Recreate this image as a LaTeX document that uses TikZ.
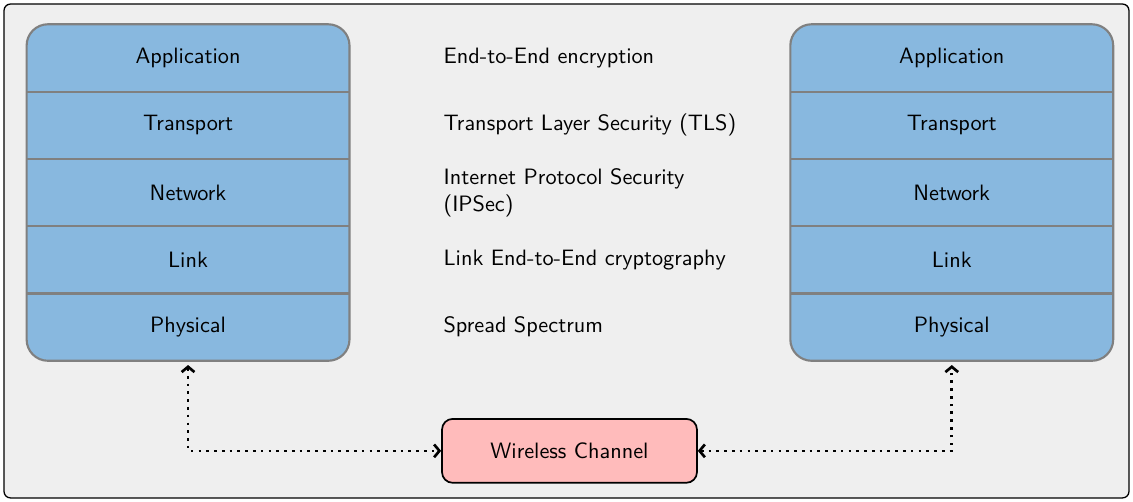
\documentclass[tikz,border=0pt]{standalone}
\usepackage{tikz}
\usetikzlibrary{positioning,fit,backgrounds,arrows.meta}

\definecolor{layerblue}{RGB}{136,184,223}
\definecolor{stackgray}{RGB}{128,128,128}
\definecolor{chanpink}{RGB}{255,187,187}
\definecolor{framegray}{RGB}{239,239,239}

\begin{document}
\begin{tikzpicture}
    [
      font=\sffamily\fontsize{10.45}{12.5}\selectfont,
      layer/.style={minimum width=151.2pt, minimum height=31.2pt, inner sep=0pt},
      stack/.style={rounded corners=10pt, draw=stackgray, line width=1pt, fill=layerblue, inner sep=0pt},
      sep/.style={draw=stackgray, line width=1pt},
      info/.style={text width=142pt, align=left, inner sep=0pt},
      channel/.style={rounded corners=5pt, draw, line width=0.8pt, fill=chanpink, minimum width=119.7pt, minimum height=30pt},
      link/.style={<->, >={Straight Barb[length=2.5pt,width=6pt]}, line width=1.25pt, dash pattern=on 1.25pt off 2.4pt, shorten <=2pt}
    ]
    \useasboundingbox (0pt,0pt) rectangle (532pt,235.7pt);
    % left stack
    \node (appA) [layer] at (88.3pt,208.5pt) {Application};
    \node (transA) [below=0pt of appA, layer] {Transport};
    \node (netA) [below=0pt of transA, layer] {Network};
    \node (linkA) [below=0pt of netA, layer] {Link};
    \node (phyA) [below=0pt of linkA, layer] {Physical};
    % right stack
    \node (appB) [right=207pt of appA, layer] {Application};
    \node (transB) [below=0pt of appB, layer] {Transport};
    \node (netB) [below=0pt of transB, layer] {Network};
    \node (linkB) [below=0pt of netB, layer] {Link};
    \node (phyB) [below=0pt of linkB, layer] {Physical};
    % security per layer
    \node (e2e) [right=44pt of appA, info] {End-to-End encryption};
    \node (tls) [right=44pt of transA, info] {Transport Layer Security (TLS)};
    \node (ipsec) [right=44pt of netA, info] {Internet Protocol Security (IPSec)};
    \node (lcrypt) [right=44pt of linkA, info] {Link End-to-End cryptography};
    \node (spread) [right=44pt of phyA, info] {Spread Spectrum};
    \node (wire) [channel] at (267.4pt,24pt) {Wireless Channel};
    \begin{scope}[on background layer]
      \draw [rounded corners=3pt, fill=framegray, line width=0.6pt] (1.9pt,1.9pt) rectangle (530.1pt,233.8pt);
      \node [fit=(appA) (phyA), stack] {};
      \node [fit=(appB) (phyB), stack] {};
    \end{scope}
    \foreach \s in {A,B}
      \foreach \r in {app,trans,net,link}
        \draw [sep] (\r\s.south west) -- (\r\s.south east);
    \draw [link] (phyA.south) |- (wire.west);
    \draw [link, shorten <=0pt, shorten >=2pt] (wire.east) -| (phyB.south);
\end{tikzpicture}
\end{document}
